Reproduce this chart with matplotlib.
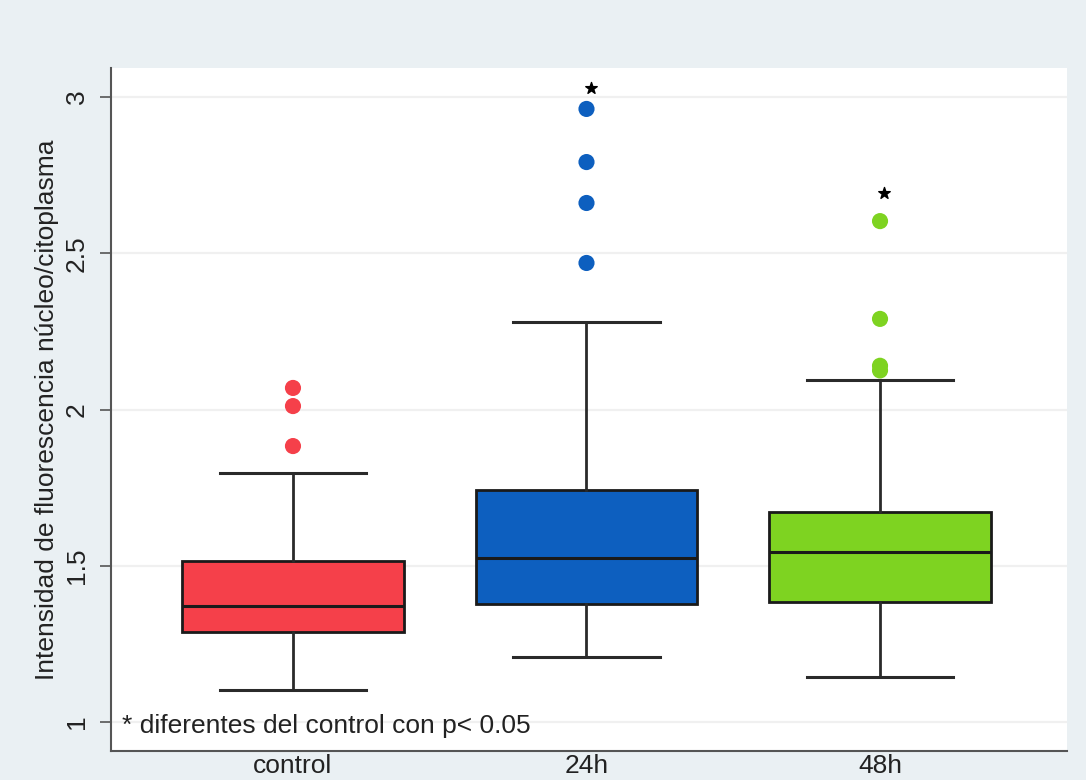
import matplotlib.pyplot as plt

plt.rcParams['font.family'] = ['Liberation Sans', 'DejaVu Sans']

# box summaries per group
groups = ['control', '24h', '48h']
q1 = [1.288, 1.378, 1.384]
medians = [1.371, 1.525, 1.544]
q3 = [1.515, 1.742, 1.672]
whisker_lo = [1.102, 1.208, 1.144]
whisker_hi = [1.797, 2.280, 2.094]
outliers = [
    [2.069, 2.011, 1.883],
    [2.962, 2.792, 2.661, 2.469],
    [2.603, 2.290, 2.140, 2.125],
]
colors = ['#f5404a', '#0d5fbf', '#7ed321']

# significance marks (group index, y)
star_groups = [2, 3]
star_y = [3.03, 2.693]

bg = '#eaf0f3'
ink = '#222222'
fs = 19

fig = plt.figure(figsize=(10.86, 7.8), dpi=100)
fig.patch.set_facecolor(bg)
ax = fig.add_axes([0.1022, 0.0372, 0.8803, 0.8756])
ax.set_facecolor('white')

positions = [1, 2, 3]
stats = []
for i, g in enumerate(groups):
    stats.append(dict(label=g, med=medians[i], q1=q1[i], q3=q3[i],
                      whislo=whisker_lo[i], whishi=whisker_hi[i], fliers=[]))

bp = ax.bxp(stats, positions=positions, widths=0.755, patch_artist=True,
            showfliers=False, capwidths=0.5,
            boxprops=dict(edgecolor='#1a1a1a', linewidth=2),
            medianprops=dict(color='#1a1a1a', linewidth=2.2),
            whiskerprops=dict(color='#2a2a2a', linewidth=2),
            capprops=dict(color='#2a2a2a', linewidth=2.2))
for patch, c in zip(bp['boxes'], colors):
    patch.set_facecolor(c)

for pos, pts, c in zip(positions, outliers, colors):
    ax.scatter([pos] * len(pts), pts, s=135, color=c, edgecolors='none', zorder=4)

ax.scatter([p + 0.015 for p in star_groups], star_y, marker='*', s=75,
           color='black', zorder=5)

ax.set_xlim(0.38, 3.637)
ax.set_ylim(0.907, 3.093)
ax.set_yticks([1, 1.5, 2, 2.5, 3])
ax.set_yticklabels(['1', '1.5', '2', '2.5', '3'], rotation=90, va='center')
ax.set_xticks(positions)
ax.set_xticklabels(groups)
ax.grid(axis='y', color='#f0f0f0', linewidth=1.6)
ax.set_axisbelow(True)

ax.tick_params(axis='y', length=8, width=1.2, color='#555555', labelsize=fs,
               pad=8, labelcolor=ink)
ax.tick_params(axis='x', length=0, labelsize=fs, pad=2, labelcolor=ink)

for s in ['top', 'right']:
    ax.spines[s].set_visible(False)
for s in ['left', 'bottom']:
    ax.spines[s].set_color('#555555')
    ax.spines[s].set_linewidth(1.5)

ax.set_ylabel('Intensidad de fluorescencia núcleo/citoplasma', fontsize=fs,
              color=ink, labelpad=4)

ax.text(0.012, 0.037, '* diferentes del control con p< 0.05', transform=ax.transAxes,
        fontsize=fs, color=ink, ha='left', va='center')

fig.savefig('out.png', dpi=100, facecolor=bg)
